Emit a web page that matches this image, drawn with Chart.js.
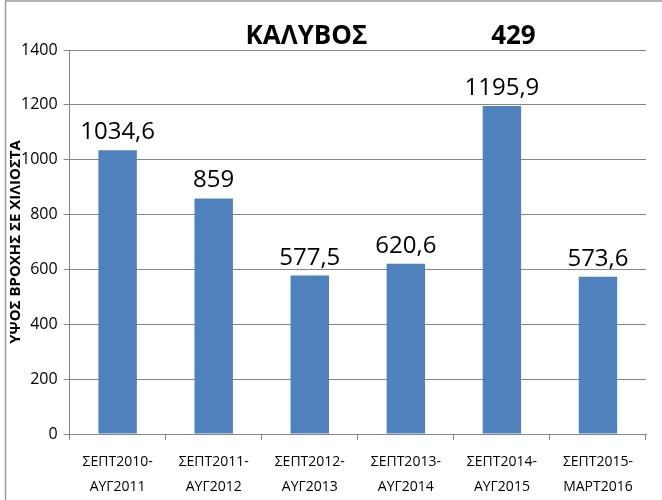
<!DOCTYPE html>
<html>
<head>
<meta charset="utf-8">
<script src="https://cdn.jsdelivr.net/npm/chart.js@4"></script>
<style>
  body { margin: 0; background: #fff; }
  #wrap { width: 662px; height: 500px; position: relative; }
</style>
</head>
<body>
<div id="wrap"><canvas id="rainChart"></canvas></div>
<script>
const periods = [
    ["ΣΕΠΤ2010-", "ΑΥΓ2011"],
    ["ΣΕΠΤ2011-", "ΑΥΓ2012"],
    ["ΣΕΠΤ2012-", "ΑΥΓ2013"],
    ["ΣΕΠΤ2013-", "ΑΥΓ2014"],
    ["ΣΕΠΤ2014-", "ΑΥΓ2015"],
    ["ΣΕΠΤ2015-", "ΜΑΡΤ2016"]
];
const rainfall = [1034.6, 859, 577.5, 620.6, 1195.9, 573.6];
const valueLabels = ["1034,6", "859", "577,5", "620,6", "1195,9", "573,6"];
const stationName = "ΚΑΛΥΒΟΣ";
const stationCode = "429";

const fontFamily = "'Open Sans', 'DejaVu Sans', sans-serif";

// frame + two-part heading
const framePlugin = {
    id: 'frame',
    beforeDraw(chart) {
        const c = chart.ctx;
        c.save();
        c.strokeStyle = '#9a9a9a';
        c.lineWidth = 1.5;
        c.beginPath();
        c.moveTo(5.5, 500);
        c.lineTo(5.5, 1);
        c.lineTo(662, 1);
        c.stroke();
        c.restore();
    },
    afterDraw(chart) {
        const c = chart.ctx;
        const a = chart.chartArea;
        c.save();
        c.fillStyle = '#000';
        c.font = "bold 26px " + fontFamily;
        c.textAlign = 'center';
        c.textBaseline = 'alphabetic';
        c.fillText(stationName, a.left + (a.right - a.left) * 0.411, 44);
        c.fillText(stationCode, a.left + (a.right - a.left) * 0.77, 44);
        c.restore();
    }
};

// value labels above the bars
const valuePlugin = {
    id: 'values',
    afterDatasetsDraw(chart) {
        const c = chart.ctx;
        const meta = chart.getDatasetMeta(0);
        c.save();
        c.fillStyle = '#000';
        c.font = "24px " + fontFamily;
        c.textAlign = 'center';
        c.textBaseline = 'alphabetic';
        meta.data.forEach((bar, i) => {
            c.fillText(valueLabels[i], bar.x, bar.y - 11);
        });
        c.restore();
    }
};

new Chart(document.getElementById('rainChart'), {
    type: 'bar',
    data: {
        labels: periods,
        datasets: [{
            data: rainfall,
            backgroundColor: '#4F81BD',
            barPercentage: 0.4,
            categoryPercentage: 1.0
        }]
    },
    options: {
        responsive: true,
        maintainAspectRatio: false,
        animation: false,
        layout: { padding: { top: 50, right: 16, bottom: -9, left: 7 } },
        plugins: {
            legend: { display: false },
            tooltip: { enabled: false }
        },
        scales: {
            x: {
                grid: {
                    display: true,
                    drawOnChartArea: false,
                    drawTicks: true,
                    tickLength: 6,
                    color: '#868686',
                    offset: true
                },
                border: { color: '#868686' },
                ticks: {
                    color: '#000',
                    font: { family: fontFamily, size: 14, lineHeight: 1.75 },
                    padding: 10,
                    maxRotation: 0
                }
            },
            y: {
                min: 0,
                max: 1400,
                ticks: {
                    stepSize: 200,
                    color: '#000',
                    font: { family: fontFamily, size: 16 },
                    padding: 6,
                    callback: (v) => String(v)
                },
                grid: { color: '#868686', tickLength: 6 },
                border: { color: '#868686' },
                title: {
                    display: true,
                    text: 'ΥΨΟΣ ΒΡΟΧΗΣ ΣΕ ΧΙΛΙΟΣΤΑ',
                    color: '#000',
                    font: { family: fontFamily, size: 15, weight: 'bold' },
                    padding: { top: 0, bottom: -10 }
                }
            }
        }
    },
    plugins: [framePlugin, valuePlugin]
});
</script>
</body>
</html>
